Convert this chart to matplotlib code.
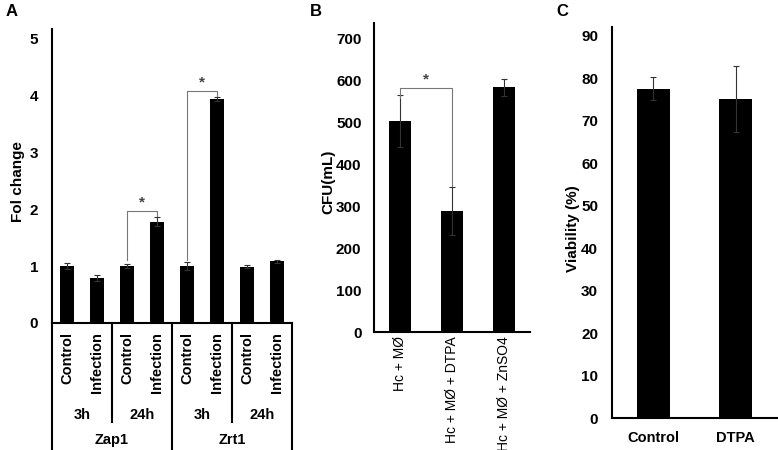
import matplotlib
matplotlib.use("Agg")
import matplotlib.pyplot as plt

plt.rcParams['font.family'] = ['Liberation Sans', 'DejaVu Sans']
plt.rcParams['font.weight'] = 'bold'
plt.rcParams['font.size'] = 10.5

# panel A - fold change
a_labels = ["Control", "Infection"] * 4
a_times = ["3h", "24h", "3h", "24h"]
a_genes = ["Zap1", "Zrt1"]
a_vals = [1.0, 0.79, 1.0, 1.78, 1.0, 3.93, 0.99, 1.08]
a_err = [0.05, 0.05, 0.04, 0.08, 0.07, 0.04, 0.02, 0.02]

# panel B - CFU
b_labels = ["Hc + MØ", "Hc + MØ + DTPA", "Hc + MØ + ZnSO4"]
b_vals = [504, 289, 584]
b_err = [63, 57, 21]

# panel C - viability
c_labels = ["Control", "DTPA"]
c_vals = [77.6, 75.1]
c_err = [2.8, 7.8]

W, H = 778, 450
fig = plt.figure(figsize=(W / 100, H / 100), dpi=100)


def box(l, t, r, b):
    return [l / W, 1 - b / H, (r - l) / W, (b - t) / H]


def style(ax, pad):
    for s in ["top", "right"]:
        ax.spines[s].set_visible(False)
    ax.spines["left"].set_linewidth(1.5)
    ax.spines["bottom"].set_linewidth(1.5)
    ax.tick_params(axis="y", length=0, pad=pad, labelsize=11)
    ax.tick_params(axis="x", length=0)
    for t in ax.get_yticklabels():
        t.set_fontweight("bold")


err_kw = dict(ecolor="#333333", elinewidth=0.8, capsize=2.5, capthick=0.8)

# ---- A ----
axA = fig.add_axes(box(52, 29, 292, 323))
xa = list(range(len(a_vals)))
axA.bar(xa, a_vals, width=0.45, color="black", yerr=a_err, error_kw=err_kw)
axA.set_xlim(-0.5, 7.5)
axA.set_ylim(0, 5.16)
axA.set_yticks([0, 1, 2, 3, 4, 5])
axA.set_xticks([])
style(axA, 10)
axA.set_ylabel("Fol change", fontweight="bold", fontsize=11)
axA.yaxis.set_label_coords(-0.1125, 0.48)

tr = axA.get_xaxis_transform()
for i, lab in enumerate(a_labels):
    axA.text(i, -0.03, lab, rotation=90, ha="center", va="top",
             transform=tr, fontweight="bold")
for j, t in enumerate(a_times):
    axA.text(2 * j + 0.5, -0.313, t, ha="center", va="center",
             transform=tr, fontweight="bold")
for j, g in enumerate(a_genes):
    axA.text(4 * j + 1.5, -0.398, g, ha="center", va="center",
             transform=tr, fontweight="bold")
for xd in [1.5, 5.5]:
    axA.plot([xd, xd], [0, -0.337], color="black", lw=1.5,
             transform=tr, clip_on=False)
for xd in [-0.5, 3.5, 7.5]:
    axA.plot([xd, xd], [0, -0.44], color="black", lw=1.5,
             transform=tr, clip_on=False)

# significance brackets A
for (x1, x2, ytop, y1, y2) in [(2, 3, 1.97, 1.1, 1.88), (4, 5, 4.07, 1.1, 3.99)]:
    axA.plot([x1, x1, x2, x2], [y1, ytop, ytop, y2], color="#777777", lw=0.8)
    axA.text((x1 + x2) / 2, ytop + 0.03, "*", ha="center", va="bottom",
             fontsize=11, color="#444444")

# ---- B ----
axB = fig.add_axes(box(374, 23, 530, 332))
xb = list(range(len(b_vals)))
axB.bar(xb, b_vals, width=0.43, color="black", yerr=b_err, error_kw=err_kw)
axB.set_xlim(-0.5, 2.5)
axB.set_ylim(0, 738)
axB.set_yticks(range(0, 701, 100))
axB.set_xticks(xb)
axB.set_xticklabels(b_labels, rotation=90, fontweight="normal", fontsize=10)
style(axB, 9)
axB.tick_params(axis="x", pad=3)
axB.set_ylabel("CFU(mL)", fontweight="bold", fontsize=11)
axB.yaxis.set_label_coords(-0.25, 0.485)
axB.plot([0, 0, 1, 1], [560, 582, 582, 348], color="#777777", lw=0.8)
axB.text(0.5, 586, "*", ha="center", va="bottom", fontsize=11, color="#444444")

# ---- C ----
axC = fig.add_axes(box(612, 27, 777, 418))
xc = list(range(len(c_vals)))
axC.bar(xc, c_vals, width=0.4, color="black", yerr=c_err, error_kw=err_kw)
axC.set_xlim(-0.5, 1.5)
axC.set_ylim(0, 92.1)
axC.set_yticks(range(0, 91, 10))
axC.set_xticks(xc)
axC.set_xticklabels(c_labels, fontweight="bold")
style(axC, 10)
axC.tick_params(axis="x", pad=9)
axC.set_ylabel("Viability (%)", fontweight="bold", fontsize=11)
axC.yaxis.set_label_coords(-0.194, 0.485)

# panel letters
fig.text(6 / W, 1 - 11 / H, "A", fontsize=12, fontweight="bold", va="center")
fig.text(310 / W, 1 - 11 / H, "B", fontsize=12, fontweight="bold", va="center")
fig.text(556 / W, 1 - 12 / H, "C", fontsize=12, fontweight="bold", va="center")

fig.savefig("out.png", dpi=100)
